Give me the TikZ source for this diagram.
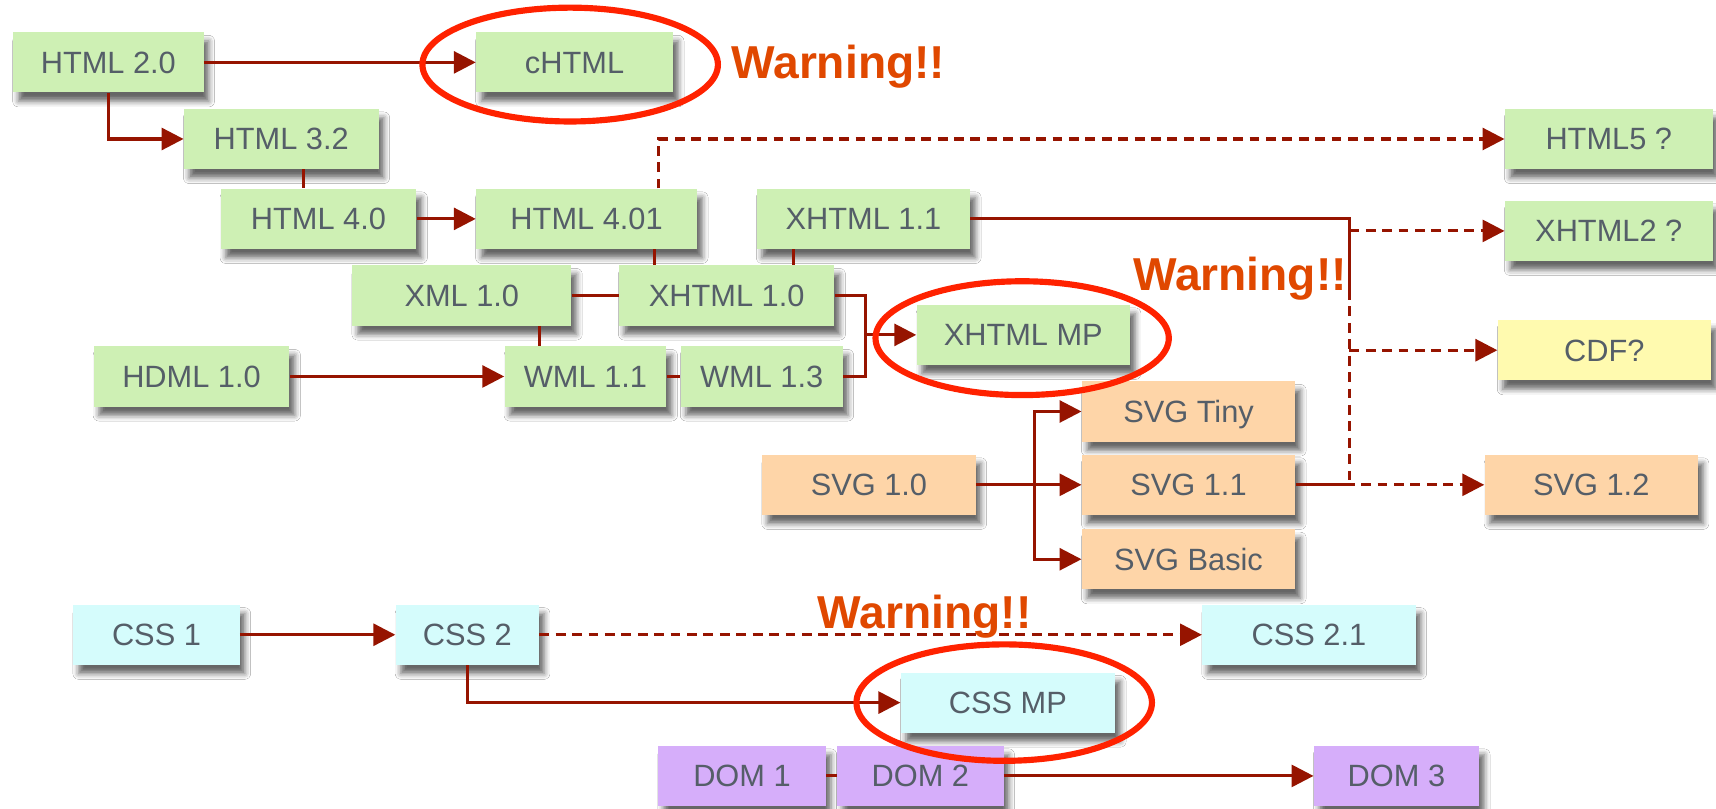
\documentclass[tikz,border=0pt]{standalone}
\usepackage{fontspec}
\setmainfont{Liberation Sans}
\usepackage{tikz}
\usetikzlibrary{arrows.meta,shadows.blur}
\definecolor{markupFill}{RGB}{206,240,180}
\definecolor{vectorFill}{RGB}{254,213,168}
\definecolor{sheetFill}{RGB}{213,252,252}
\definecolor{domFill}{RGB}{214,174,250}
\definecolor{draftFill}{RGB}{255,250,175}
\definecolor{verText}{RGB}{85,94,104}
\definecolor{lineRed}{RGB}{150,20,0}
\definecolor{ringRed}{RGB}{255,34,0}
\definecolor{warnText}{RGB}{224,72,0}
\tikzset{
    ver/.style = {
        shape=rectangle,
        minimum height=1.375cm,
        minimum width=4.875cm,
        inner sep=0pt,
        text=verText,
        text height=14.3pt,
        text depth=0pt,
        font=\fontsize{20}{24}\selectfont,
        blur shadow={shadow xshift=0.12cm, shadow yshift=-0.2cm,
            shadow blur radius=0.13cm, shadow opacity=60}
    },
    markup/.style = {ver, fill=markupFill},
    vector/.style = {ver, fill=vectorFill},
    sheet/.style = {ver, fill=sheetFill},
    dom/.style = {ver, fill=domFill},
    draft/.style = {ver, fill=draftFill},
    link/.style = {draw=lineRed, line width=2pt},
    future/.style = {link, dash pattern=on 0.225cm off 0.15cm},
    ring/.style = {draw=ringRed, line width=4pt},
    warn/.style = {
        anchor=base,
        text=warnText,
        font=\fontsize{30}{36}\selectfont\bfseries
    },
    >={Triangle[length=0.5cm,width=0.5cm]},
}

\begin{document}
\begin{tikzpicture}
    \useasboundingbox (0,0) rectangle (39.2,-18.475);
    \fill[white] (0,0) rectangle (39.2,-18.475);

    % HTML line
    \node[markup, minimum width=4.35cm] (html20) at (2.475,-1.425) {HTML 2.0};
    \node[markup, minimum width=4.5cm] (chtml) at (13.125,-1.425) {cHTML};
    \node[markup, minimum width=4.45cm] (html32) at (6.425,-3.175) {HTML 3.2};
    \node[markup, minimum width=4.75cm] (html5) at (36.75,-3.175) {HTML5 ?};
    \node[markup, minimum width=4.475cm] (html40) at (7.275,-5) {HTML 4.0};
    \node[markup, minimum width=5.05cm] (html401) at (13.4,-5) {HTML 4.01};
    \node[markup] (xhtml11) at (19.725,-5) {XHTML 1.1};
    \node[markup, minimum width=4.75cm] (xhtml2) at (36.75,-5.275) {XHTML2 ?};
    \node[markup, minimum width=5cm] (xml10) at (10.55,-6.75) {XML 1.0};
    \node[markup, minimum width=4.925cm] (xhtml10) at (16.6,-6.75) {XHTML 1.0};
    \node[markup] (xhtmlmp) at (23.375,-7.65) {XHTML MP};
    \node[draft] (cdf) at (36.65,-8) {CDF?};
    \node[markup, minimum width=4.475cm] (hdml) at (4.375,-8.6) {HDML 1.0};
    \node[markup, minimum width=3.7cm] (wml11) at (13.375,-8.6) {WML 1.1};
    \node[markup, minimum width=3.7cm] (wml13) at (17.4,-8.6) {WML 1.3};

    % SVG
    \node[vector] (svgtiny) at (27.15,-9.4) {SVG Tiny};
    \node[vector] (svg10) at (19.85,-11.075) {SVG 1.0};
    \node[vector] (svg11) at (27.15,-11.075) {SVG 1.1};
    \node[vector] (svg12) at (36.35,-11.075) {SVG 1.2};
    \node[vector] (svgbasic) at (27.15,-12.775) {SVG Basic};

    % CSS and DOM
    \node[sheet, minimum width=3.8cm] (css1) at (3.575,-14.5) {CSS 1};
    \node[sheet, minimum width=3.275cm] (css2) at (10.675,-14.5) {CSS 2};
    \node[sheet] (css21) at (29.9,-14.5) {CSS 2.1};
    \node[sheet, minimum width=4.9cm] (cssmp) at (23.025,-16.05) {CSS MP};
    \node[dom, minimum width=3.825cm] (dom1) at (16.95,-17.725) {DOM 1};
    \node[dom, minimum width=3.8cm] (dom2) at (21.025,-17.725) {DOM 2};
    \node[dom, minimum width=3.775cm] (dom3) at (31.9,-17.725) {DOM 3};

    \coordinate (mpjoin) at ([xshift=-1.15cm]xhtmlmp.west);
    \coordinate (xbus) at (30.825,-6.625);
    \coordinate (svgbus) at ([xshift=-1.075cm]svg11.west);

    \path[link, ->] (html20) -- (chtml);
    \path[link, ->] (html20.south) |- (html32.west);
    \path[link] ([xshift=0.5cm]html32.south) -- ([xshift=0.5cm]html32.south |- html40.north);
    \path[link, ->] (html40) -- (html401);
    \path[future, ->] ([xshift=1.65cm]html401.north) |- (html5.west);
    \path[link] ([xshift=1.55cm]html401.south) -- ([xshift=1.55cm]html401.south |- xhtml10.north);
    \path[link] ([xshift=-1.6cm]xhtml11.south) -- ([xshift=-1.6cm]xhtml11.south |- xhtml10.north);
    \path[link] (xml10) -- (xhtml10);
    \path[link] ([xshift=1.775cm]xml10.south) -- ([xshift=1.775cm]xml10.south |- wml11.north);
    \path[link, ->] (hdml) -- (wml11);
    \path[link] (wml11) -- (wml13);
    \path[link] (xhtml10.east) -| (mpjoin) |- (wml13.east);
    \path[link, ->] (mpjoin) -- (xhtmlmp.west);

    \path[link] (xhtml11.east) -| (xbus);
    \path[future] (xbus) |- (svg11.east);
    \path[future, ->] (xbus |- xhtml2.west) -- (xhtml2.west);
    \path[future, ->] (xbus |- cdf.west) -- (cdf.west);
    \path[future, ->] (svg11.east) -- (svg12.west);

    \path[link, ->] (svg10) -- (svg11);
    \path[link, <->] (svgtiny.west) -| (svgbus) |- (svgbasic.west);

    \path[link, ->] (css1) -- (css2);
    \path[future, ->] (css2) -- (css21);
    \path[link, ->] (css2.south) |- (cssmp.west);
    \path[link] (dom1) -- (dom2);
    \path[link, ->] (dom2) -- (dom3);

    % warnings
    \draw[ring] ([xshift=-0.1cm, yshift=-0.05cm]chtml) ellipse [x radius=3.375cm, y radius=1.3cm];
    \draw[ring] ([xshift=-0.025cm, yshift=-0.075cm]xhtmlmp) ellipse [x radius=3.35cm, y radius=1.3cm];
    \draw[ring] ([xshift=-0.085cm]cssmp) ellipse [x radius=3.375cm, y radius=1.33cm];
    \node[warn] (warnchtml) at (19.15,-1.8) {Warning!!};
    \node[warn] (warnxhtml) at (28.325,-6.625) {Warning!!};
    \node[warn] (warncss) at (21.125,-14.35) {Warning!!};
\end{tikzpicture}
\end{document}
